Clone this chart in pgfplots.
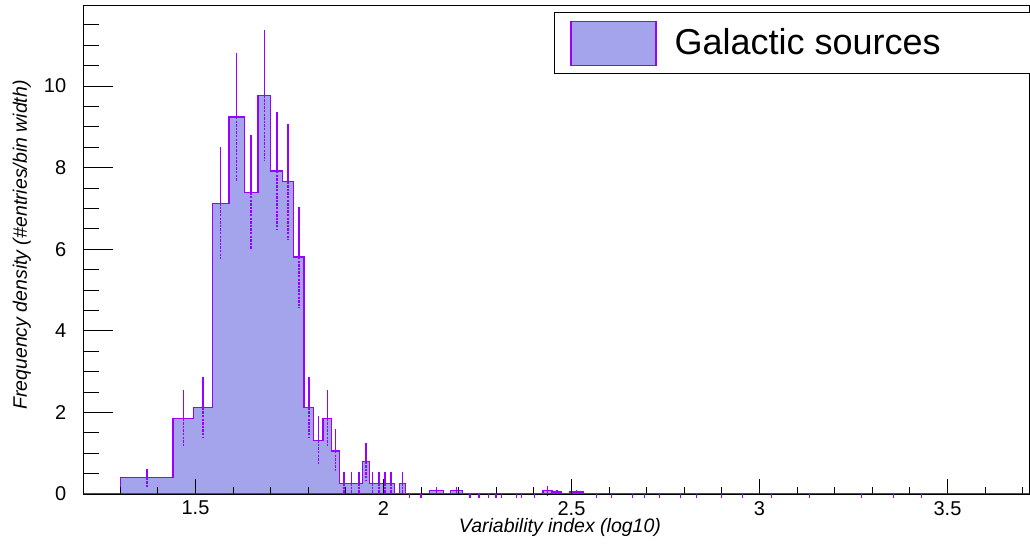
\documentclass[border=0pt]{standalone}
\usepackage{fontspec}
\setmainfont{Liberation Sans}
\usepackage{pgfplots}
\pgfplotsset{compat=1.18}
\definecolor{histline}{RGB}{153,0,255}
\definecolor{histfill}{RGB}{164,164,236}
\pgfplotstableread{
x y e
1.3705 0.396 0.229
1.4679 1.848 0.698
1.5204 2.112 0.747
1.5670 7.128 1.372
1.6093 9.240 1.562
1.6480 7.392 1.397
1.6834 9.768 1.606
1.7161 7.920 1.446
1.7465 7.656 1.422
1.7750 5.808 1.238
1.8016 2.112 0.747
1.8267 1.320 0.590
1.8505 1.848 0.698
1.8730 1.056 0.528
1.8944 0.264 0.264
1.9148 0.264 0.264
1.9343 0.264 0.264
1.9530 0.792 0.457
1.9708 0.264 0.264
1.9880 0.264 0.264
2.0045 0.264 0.264
2.0204 0.264 0.264
2.0506 0.264 0.264
2.1405 0.08 0.10
2.1945 0.08 0.10
2.4360 0.08 0.12
2.4610 0.05 0.05
2.5135 0.05 0.05
}\errtable
\begin{document}
\begin{tikzpicture}
\path[use as bounding box] (-41.65pt,-24.5pt) rectangle (473.35pt,247pt);
\begin{axis}[
  at={(0pt,0pt)}, anchor=south west,
  scale only axis, width=473.35pt, height=244.15pt,
  xmin=1.2016, xmax=3.7194, ymin=0, ymax=11.97,
  clip=false,
  axis on top,
  axis line style={black, line width=0.5pt},
  tick pos=left, tick align=inside,
  tick style={black, line width=0.5pt},
  xtick={1.5,2,2.5,3,3.5},
  minor xtick={1.3,1.4,1.6,1.7,1.8,1.9,2.1,2.2,2.3,2.4,2.6,2.7,2.8,2.9,3.1,3.2,3.3,3.4,3.6,3.7},
  ytick={0,2,4,6,8,10},
  minor ytick={0.5,1,1.5,2.5,3,3.5,4.5,5,5.5,6.5,7,7.5,8.5,9,9.5,10.5,11,11.5},
  xtick style={/pgfplots/major tick length=7.5pt,/pgfplots/minor tick length=3.5pt},
  ytick style={/pgfplots/major tick length=15pt,/pgfplots/minor tick length=8pt},
  /pgf/number format/assume math mode=true,
  ticklabel style={font=\fontsize{10}{12}\selectfont},
  yticklabel style={xshift=-5pt},
  xlabel={\itshape Variability index (log10)},
  ylabel={\itshape Frequency density (\#entries/bin width)},
  label style={font=\fontsize{9.75}{11}\selectfont},
  xlabel style={at={(axis description cs:0.5035,-0.0695)}, anchor=center},
  ylabel style={at={(axis description cs:-0.0650,0.51)}, anchor=center},
  legend style={at={(axis description cs:0.4972,0.987)}, anchor=north west,
    draw=black, line width=0.5pt, font=\fontsize{18}{21}\selectfont,
    inner xsep=8pt, inner ysep=4pt},
  legend cell align=left,
  legend image code/.code={\draw[fill=histfill, draw=histline, line width=0.6pt] (0pt,-11pt) rectangle (42.5pt,11pt);},
]
\addplot[const plot, draw=histline, fill=histfill, line width=0.6pt] coordinates {
(1.2016,0) (1.301,0.396) (1.440,1.848) (1.4957,2.112) (1.545,7.128) (1.589,9.240)
(1.6296,7.392) (1.6664,9.768) (1.7004,7.920) (1.7318,7.656) (1.7612,5.808)
(1.7887,2.112) (1.8145,1.320) (1.8389,1.848) (1.862,1.056) (1.8839,0.264)
(1.9438,0.792) (1.9621,0.264) (2.0282,0) (2.0433,0.264) (2.0579,0)
(2.122,0.08) (2.159,0) (2.178,0.08) (2.211,0) (2.424,0.08) (2.448,0.05) (2.474,0)
(2.496,0.05) (2.531,0) (3.7194,0)
} \closedcycle;
\addlegendentry{\hspace*{7pt}Galactic sources\rule{125pt}{0pt}}
\addplot[histline, draw=none, mark=none, forget plot,
  error bars/.cd, y dir=plus, y explicit, error mark=none,
  error bar style={draw=histline, line width=0.75pt}]
  table[x=x, y=y, y error=e] {\errtable};
\addplot[histline, draw=none, mark=none, forget plot,
  error bars/.cd, y dir=minus, y explicit, error mark=none,
  error bar style={draw=histline, line width=0.75pt, dash pattern=on 1.2pt off 0.6pt}]
  table[x=x, y=y, y error=e] {\errtable};
\addplot[only marks, mark=|, mark size=0.8pt, mark options={histline, line width=0.6pt}, forget plot] coordinates {
(2.070,-0.05) (2.100,-0.05) (2.230,-0.05) (2.254,-0.05) (2.280,-0.05) (2.299,-0.05)
(2.313,-0.05) (2.354,-0.05) (2.366,-0.05) (2.401,-0.05) (2.567,-0.05) (2.607,-0.05)
(2.662,-0.05) (2.695,-0.05) (2.735,-0.05) (2.789,-0.05) (2.833,-0.05) (2.899,-0.05)
(2.955,-0.05) (3.031,-0.05) (3.132,-0.05) (3.272,-0.05) (3.356,-0.05) (3.431,-0.05)
};
\end{axis}
\end{tikzpicture}
\end{document}
